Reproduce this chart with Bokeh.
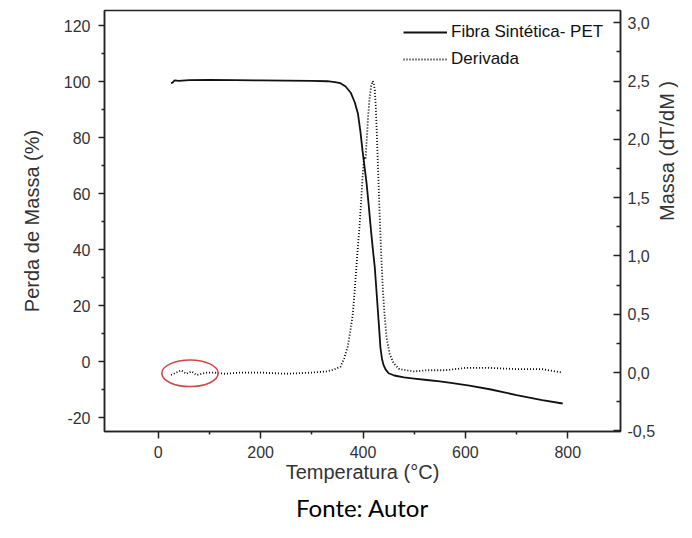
import math
from bokeh.plotting import figure
from bokeh.models import (Range1d, LinearAxis, FixedTicker, CustomJSTickFormatter,
                          Legend, LegendItem, Title, ColumnDataSource)
from bokeh.embed import file_html
from bokeh.resources import INLINE

# ---------------- data ----------------
temp_tg = [25, 28, 32, 40, 60, 100, 150, 200, 250, 300, 330, 345, 356, 366, 376, 384,
           390, 395, 399, 403, 407, 411, 415, 419, 423, 426, 429, 432, 434, 437, 440,
           444, 450, 461, 480, 500, 525, 550, 575, 608, 650, 700, 750, 790]
mass_tg = [99.4, 99.6, 100.4, 100.2, 100.5, 100.6, 100.5, 100.4, 100.3, 100.2, 100.1,
           99.8, 99.4, 98.2, 96.0, 92.5, 88.6, 82.0, 75.4, 69.5, 63.6, 56.0, 47.9, 40.5,
           33.6, 26.0, 18.2, 10.5, 5.0, 1.0, -1.2, -2.8, -4.2, -5.0, -5.7, -6.1, -6.6,
           -7.1, -7.7, -8.6, -10.0, -12.0, -13.8, -15.0]

temp_dtg = [25, 35, 45, 55, 65, 75, 85, 95, 110, 130, 160, 200, 250, 300, 330, 345,
            356, 363, 370, 375, 380, 384, 387, 390, 393, 396, 399, 402, 405, 408, 410,
            413, 416, 419, 421, 423, 425, 427, 429, 431, 433, 436, 439, 442, 446, 452,
            460, 471, 500, 525, 560, 600, 650, 700, 750, 790]
dtg = [-0.02, 0.0, 0.02, -0.01, 0.01, -0.02, -0.01, 0.0, 0.0, -0.01, 0.0, 0.0, -0.01,
       0.0, 0.01, 0.03, 0.05, 0.12, 0.22, 0.35, 0.5, 0.72, 0.9, 1.08, 1.24, 1.45, 1.67,
       1.85, 1.83, 2.05, 2.2, 2.36, 2.46, 2.5, 2.48, 2.42, 2.28, 2.05, 1.8, 1.55, 1.3,
       0.96, 0.7, 0.5, 0.3, 0.16, 0.08, 0.03, 0.01, 0.02, 0.02, 0.04, 0.04, 0.03, 0.03, 0.0]

x_ticks = [0, 200, 400, 600, 800]
x_minor = [100, 300, 500, 700]
left_ticks = [-20, 0, 20, 40, 60, 80, 100, 120]
left_minor = [-10, 10, 30, 50, 70, 90, 110]
right_ticks = [-0.5, 0.0, 0.5, 1.0, 1.5, 2.0, 2.5, 3.0]
right_minor = [-0.25, 0.25, 0.75, 1.25, 1.75, 2.25, 2.75]

series_names = ["Fibra Sintética- PET", "Derivada"]
x_title = "Temperatura (°C)"
left_title = "Perda de Massa (%)"
right_title = "Massa (dT/dM )"
caption = "Fonte: Autor"

# highlighted region (red ellipse) in data units
hl_x, hl_y, hl_w, hl_h = 62, -4.2, 110, 9.5

# ---------------- figure ----------------
FONT = "Liberation Sans"
AX = "#222222"
TXT = "#333333"

p = figure(width=692, height=538, output_backend="svg", toolbar_location=None,
           x_range=Range1d(-105, 903), y_range=Range1d(-25, 125.36),
           min_border_left=104, min_border_right=66, min_border_top=10, min_border_bottom=107)
p.extra_y_ranges = {"dtg": Range1d(-0.505, 3.105)}
p.grid.visible = False
p.outline_line_color = AX
p.outline_line_width = 1.5
p.background_fill_color = "white"
p.border_fill_color = "white"

def style_axis(ax, tin, tout, mtin, mtout):
    ax.axis_line_color = AX
    ax.axis_line_width = 1.5
    ax.major_tick_line_color = AX
    ax.major_tick_line_width = 1.5
    ax.minor_tick_line_color = AX
    ax.minor_tick_line_width = 1.5
    ax.major_tick_in = tin
    ax.major_tick_out = tout
    ax.minor_tick_in = mtin
    ax.minor_tick_out = mtout
    ax.major_label_text_font = FONT
    ax.major_label_text_font_size = "16px"
    ax.major_label_text_color = TXT
    ax.axis_label_text_font = FONT
    ax.axis_label_text_font_size = "20px"
    ax.axis_label_text_font_style = "normal"
    ax.axis_label_text_color = TXT

xa = p.xaxis[0]
style_axis(xa, 0, 7, 0, 3)
xa.ticker = FixedTicker(ticks=x_ticks, minor_ticks=x_minor)
xa.axis_label = x_title
xa.major_label_standoff = 7
xa.axis_label_standoff = 0

ya = p.yaxis[0]
style_axis(ya, 0, 6, 0, 3)
ya.ticker = FixedTicker(ticks=left_ticks, minor_ticks=left_minor)
ya.formatter = CustomJSTickFormatter(code="return tick.toFixed(0);")
ya.axis_label = left_title
ya.major_label_standoff = 8
ya.axis_label_standoff = 18

ra = LinearAxis(y_range_name="dtg")
style_axis(ra, 7, 0, 4, 0)
ra.ticker = FixedTicker(ticks=right_ticks, minor_ticks=right_minor)
ra.formatter = CustomJSTickFormatter(code="return tick.toFixed(1).replace('.', ',');")
ra.major_label_standoff = 7
ra.axis_label = right_title
ra.axis_label_standoff = 9
ra.axis_label_orientation = math.pi / 2
p.add_layout(ra, "right")

# ---------------- data marks ----------------
src_tg = ColumnDataSource(dict(x=temp_tg, y=mass_tg))
src_dtg = ColumnDataSource(dict(x=temp_dtg, y=dtg))
r_tg = p.line("x", "y", source=src_tg, line_color="#111111", line_width=1.8)
r_dtg = p.line("x", "y", source=src_dtg, y_range_name="dtg", line_color="#000000",
               line_width=1.8, line_dash="1 2")

p.ellipse(x=[hl_x], y=[hl_y], width=[hl_w], height=[hl_h], fill_alpha=0,
          line_color="#d64545", line_width=1.6)

legend = Legend(items=[LegendItem(label=series_names[0], renderers=[r_tg]),
                       LegendItem(label=series_names[1], renderers=[r_dtg])],
                location=(299, 362), border_line_color=None, background_fill_alpha=0,
                label_text_font=FONT, label_text_font_size="17px", label_text_color="#111111",
                glyph_width=44, glyph_height=20, label_height=20, label_standoff=4,
                spacing=7, padding=0, margin=0)
p.add_layout(legend, "center")

p.add_layout(Title(text=caption, align="center", text_font="Lato", text_font_size="24px",
                   text_font_style="normal", text_color="#000000", standoff=10, offset=-8),
             "below")

open("out.html", "w").write(file_html(p, INLINE))
